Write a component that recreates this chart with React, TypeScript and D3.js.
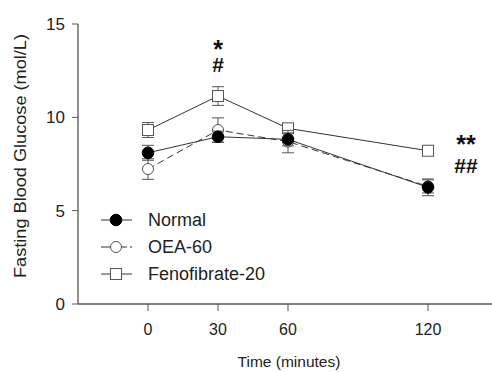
import React from "react";
import * as d3 from "d3";

const times = [0, 30, 60, 120];
const xTicks = [0, 30, 60, 120];
const yTicks = [0, 5, 10, 15];

const normalMean = [8.1, 8.96, 8.82, 6.25];
const normalErr = [0.4, 0.3, 0.35, 0.45];
const oeaMean = [7.23, 9.32, 8.7, 6.3];
const oeaErr = [0.55, 0.65, 0.6, 0.35];
const fenoMean = [9.32, 11.14, 9.41, 8.21];
const fenoErr = [0.4, 0.5, 0.25, 0.1];

const seriesNames = ["Normal", "OEA-60", "Fenofibrate-20"];

const W = 492;
const H = 372;
const font = "'Liberation Sans', Arial, sans-serif";
const ink = "#333";

const x = d3.scaleLinear().domain([-30, 120]).range([78, 428]);
const y = d3.scaleLinear().domain([0, 15]).range([304, 24]);

type Series = { name: string; mean: number[]; err: number[]; kind: "dot" | "ring" | "square"; dash?: string };

const series: Series[] = [
  { name: seriesNames[2], mean: fenoMean, err: fenoErr, kind: "square" },
  { name: seriesNames[1], mean: oeaMean, err: oeaErr, kind: "ring", dash: "7,4" },
  { name: seriesNames[0], mean: normalMean, err: normalErr, kind: "dot" },
];

const Marker = ({ kind, cx, cy }: { kind: string; cx: number; cy: number }) => {
  if (kind === "dot") return <circle cx={cx} cy={cy} r={5.8} fill="#000" stroke="#000" />;
  if (kind === "ring") return <circle cx={cx} cy={cy} r={5.5} fill="#fff" stroke="#555" strokeWidth={1} />;
  return <rect x={cx - 5.5} y={cy - 5.5} width={11} height={11} fill="#fff" stroke="#555" strokeWidth={1} />;
};

export default function App() {
  const line = d3
    .line<number>()
    .x((_, i) => x(times[i]))
    .y((d) => y(d));

  return (
    <svg width={W} height={H} style={{ position: "absolute", left: 0, top: 0, background: "#fff" }}>
      <g fontFamily={font} fill={ink}>
        {/* axes */}
        <line x1={78} x2={78} y1={y(15)} y2={y(0)} stroke="#555" strokeWidth={1.3} />
        <line x1={78} x2={492} y1={y(0)} y2={y(0)} stroke="#555" strokeWidth={1.3} />
        {yTicks.map((t) => (
          <g key={t}>
            <line x1={72} x2={78} y1={y(t)} y2={y(t)} stroke="#555" />
            <text x={65} y={y(t)} dy="0.36em" textAnchor="end" fontSize={17} fill="#222">
              {t}
            </text>
          </g>
        ))}
        {xTicks.map((t) => (
          <g key={t}>
            <line x1={x(t)} x2={x(t)} y1={y(0)} y2={y(0) + 7} stroke="#555" />
            <text x={x(t)} y={335} textAnchor="middle" fontSize={16} fill="#222">
              {t}
            </text>
          </g>
        ))}
        <text x={289} y={367} textAnchor="middle" fontSize={15.5} fill="#222">
          Time (minutes)
        </text>
        <text
          transform={`translate(26,156) rotate(-90)`}
          textAnchor="middle"
          fontSize={17}
          textLength={244}
          lengthAdjust="spacingAndGlyphs"
          fill="#222"
        >
          Fasting Blood Glucose (mol/L)
        </text>

        {/* series */}
        {series.map((s) => (
          <g key={s.name}>
            <path d={line(s.mean) || ""} fill="none" stroke={ink} strokeWidth={1} strokeDasharray={s.dash} />
            {s.mean.map((m, i) => {
              const cx = x(times[i]);
              const lo = y(m - s.err[i]);
              const hi = y(m + s.err[i]);
              return (
                <g key={i} stroke="#555" strokeWidth={1}>
                  <line x1={cx} x2={cx} y1={lo} y2={hi} />
                  <line x1={cx - 6} x2={cx + 6} y1={lo} y2={lo} />
                  <line x1={cx - 6} x2={cx + 6} y1={hi} y2={hi} />
                </g>
              );
            })}
            {s.mean.map((m, i) => (
              <Marker key={i} kind={s.kind} cx={x(times[i])} cy={y(m)} />
            ))}
          </g>
        ))}

        {/* significance marks */}
        <text textAnchor="middle" fill="#111" fontWeight="bold">
          <tspan x={x(30)} y={58} fontSize={25}>*</tspan>
          <tspan x={x(30)} y={72} fontSize={21}>#</tspan>
        </text>
        <text textAnchor="middle" fill="#111" fontWeight="bold">
          <tspan x={466} y={153} fontSize={25}>**</tspan>
          <tspan x={466} y={173} fontSize={21}>##</tspan>
        </text>

        {/* legend */}
        {[seriesNames[0], seriesNames[1], seriesNames[2]].map((name, i) => {
          const ly = 220 + i * 27;
          const kind = i === 0 ? "dot" : i === 1 ? "ring" : "square";
          return (
            <g key={name}>
              {i === 1 ? (
                <g stroke={ink}>
                  <line x1={101} x2={111} y1={ly} y2={ly} />
                  <line x1={121} x2={127} y1={ly} y2={ly} />
                  <line x1={130} x2={132} y1={ly} y2={ly} />
                </g>
              ) : (
                <line x1={101} x2={132} y1={ly} y2={ly} stroke={ink} />
              )}
              <Marker kind={kind} cx={116} cy={ly} />
              <text x={148} y={ly} dy="0.36em" fontSize={18} fill="#222">
                {name}
              </text>
            </g>
          );
        })}
      </g>
    </svg>
  );
}
